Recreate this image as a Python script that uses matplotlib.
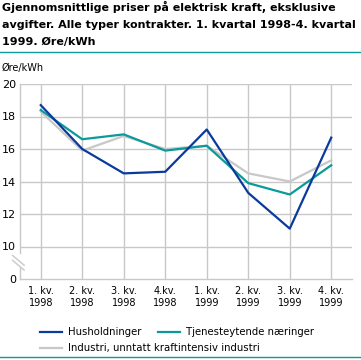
import matplotlib
matplotlib.use("Agg")
import matplotlib.pyplot as plt
from matplotlib.lines import Line2D

categories = ["1. kv.\n1998", "2. kv.\n1998", "3. kv.\n1998", "4.kv.\n1998",
              "1. kv.\n1999", "2. kv.\n1999", "3. kv.\n1999", "4. kv.\n1999"]
husholdninger = [18.7, 16.0, 14.5, 14.6, 17.2, 13.3, 11.1, 16.7]
tjenesteytende = [18.4, 16.6, 16.9, 15.9, 16.2, 13.9, 13.2, 15.0]
industri = [18.3, 15.9, 16.8, 16.0, 16.2, 14.5, 14.0, 15.3]
ytick_vals = [8, 10, 12, 14, 16, 18, 20]
ytick_labels = ["0", "10", "12", "14", "16", "18", "20"]

navy = "#0a3a9c"
teal = "#0a9a9a"
gray = "#c8c8c8"
grid = "#c8c8c8"

fig = plt.figure(figsize=(3.61, 3.60), dpi=100)
ax = fig.add_axes([20/361, 1-279/360, 332/361, 195/360])

x = list(range(len(categories)))
ax.plot(x, industri, color=gray, lw=1.6)
ax.plot(x, tjenesteytende, color=teal, lw=1.6)
ax.plot(x, husholdninger, color=navy, lw=1.6)

ax.set_xlim(-0.5, 7.5)
ax.set_ylim(8, 20)
ax.set_yticks(ytick_vals)
ax.set_yticklabels(ytick_labels)
ax.set_xticks(x)
ax.set_xticklabels(categories)
ax.tick_params(length=0, labelsize=7, pad=5)
ax.tick_params(axis="y", pad=3, labelsize=8)
for y in ytick_vals[1:]:
    ax.axhline(y, color=grid, lw=1, zorder=0)
for xi in x:
    ax.axvline(xi, color=grid, lw=1, zorder=0)
for s in ["top", "right", "left"]:
    ax.spines[s].set_visible(False)
ax.spines["bottom"].set_color(grid)
ax.spines["bottom"].set_linewidth(1)

# left spine with break
ax.plot([-0.5, -0.5], [9.6, 20], color=grid, lw=1, clip_on=False, zorder=1)
ax.plot([-0.5, -0.5], [8, 8.7], color=grid, lw=1, clip_on=False, zorder=1)
ax.plot([-0.68, -0.4], [9.15, 8.55], color=grid, lw=1, clip_on=False)
ax.plot([-0.68, -0.4], [9.45, 8.85], color=grid, lw=1, clip_on=False)

fig.text(2/361, 1-68/360, "Øre/kWh", fontsize=7, va="center", ha="left")

fig.text(2/361, 1-1/360,
         "Gjennomsnittlige priser på elektrisk kraft, eksklusive\n"
         "avgifter. Alle typer kontrakter. 1. kvartal 1998-4. kvartal\n"
         "1999. Øre/kWh",
         fontsize=8, fontweight="bold", va="top", ha="left", linespacing=1.9)
fig.add_artist(Line2D([0, 1], [1-52/360, 1-52/360], color=teal, lw=1))
fig.add_artist(Line2D([0, 1], [1-357/360, 1-357/360], color=teal, lw=1))

# legend
def leg(x0, y0, color, label):
    fig.add_artist(Line2D([x0/361, (x0+22)/361], [1-y0/360, 1-y0/360], color=color, lw=1.6))
    fig.text((x0+28)/361, 1-y0/360, label, fontsize=7.3, va="center", ha="left")

leg(40, 332, navy, "Husholdninger")
leg(158, 332, teal, "Tjenesteytende næringer")
leg(40, 348, gray, "Industri, unntatt kraftintensiv industri")

fig.savefig("out.png", dpi=100)
